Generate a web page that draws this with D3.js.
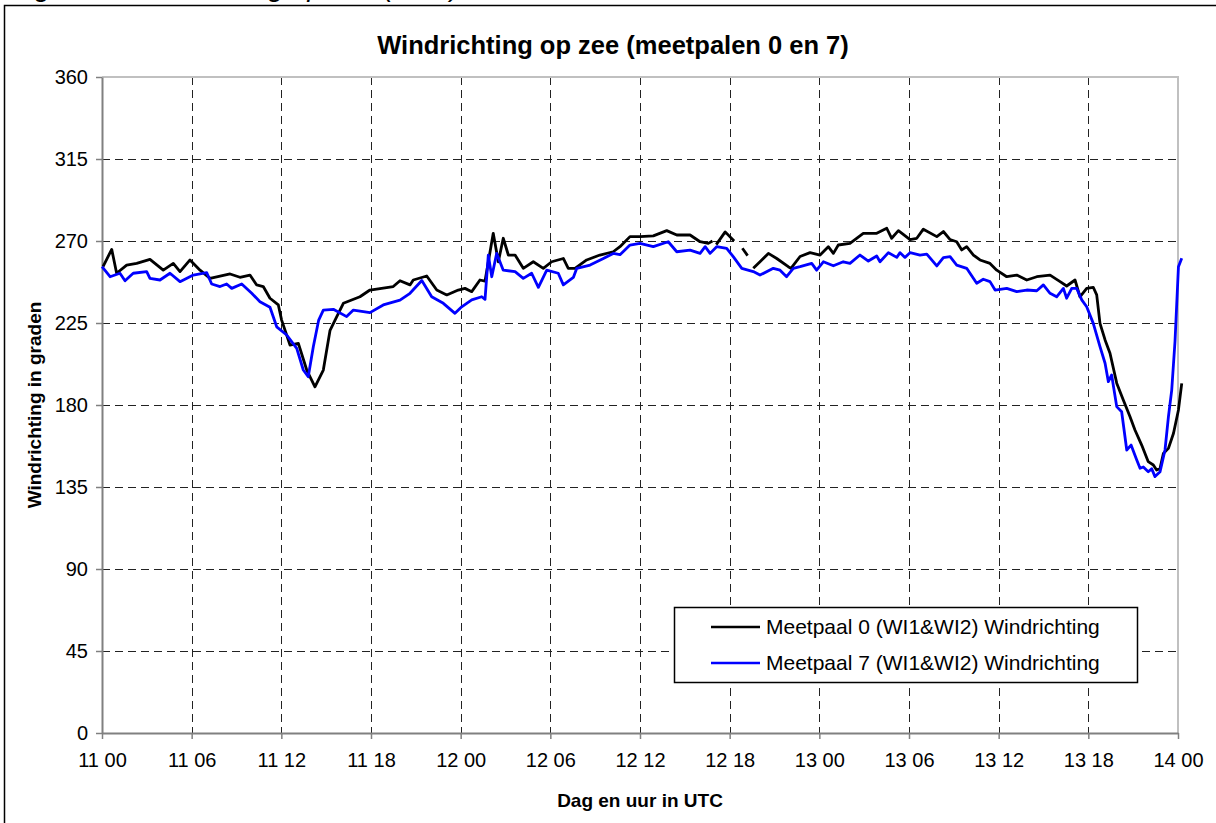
<!DOCTYPE html>
<html>
<head>
<meta charset="utf-8">
<script src="https://cdn.jsdelivr.net/npm/d3@7/dist/d3.min.js"></script>
<style>
  body { margin: 0; background: #fff; }
  text { font-family: Arial, "Liberation Sans", sans-serif; }
</style>
</head>
<body>
<div id="chart"></div>
<script>
var svgWidth = 1216;
var svgHeight = 823;

// hours since 11 00 UTC, wind direction in degrees
var hours0 = [0.07, 0.65, 0.98, 1.65, 2.32, 3.21, 4.10, 4.77, 5.22, 5.89, 6.56, 7.23, 8.57, 9.23, 9.90,
    10.35, 10.79, 11.24, 11.80, 12.02, 12.58, 13.14, 13.70, 14.25, 14.81, 15.26, 15.71, 16.15, 17.26,
    17.93, 19.49, 19.94, 20.61, 20.83, 21.73, 22.40, 23.07, 23.84, 24.29, 24.74, 25.29, 25.63, 26.18,
    26.52, 26.85, 27.19, 27.64, 28.19, 28.86, 29.53, 30.09, 30.87, 31.20, 31.65, 32.43, 33.32, 34.21,
    34.66, 35.33, 36.00, 36.89, 37.79, 38.46, 39.35, 40.02, 40.57, 40.85, 40.95, 41.1, 41.7, 42.3,
    42.5, 42.85, 43.2, 43.4, 43.58, 44.03, 44.59, 45.15, 45.92, 46.10, 46.71, 47.38, 48.05, 48.60,
    48.94, 49.27, 50.05, 50.94, 51.84, 52.51, 52.84, 53.29, 54.07, 54.52, 54.96, 55.86, 56.30, 56.75,
    57.19, 57.53, 57.86, 58.31, 58.75, 59.42, 59.87, 60.54, 61.21, 61.88, 62.55, 63.44, 64.11, 64.55,
    65.11, 65.44, 65.89, 66.33, 66.56, 66.78, 67.12, 67.45, 67.90, 68.34, 68.79, 69.12, 69.57, 70.01,
    70.35, 70.57, 70.80, 71.02, 71.36, 71.70, 72.03, 72.25];
var dir0 = [256, 265.4, 252.3, 256.8, 257.7, 259.9, 254, 257.7, 253.2, 259.6, 254, 249.5, 251.9, 250.1, 251.3,
    245.9, 245, 238.6, 234.9, 226.6, 212.9, 213.8, 199.2, 190, 199.2, 221, 228.5, 235.8, 239.4,
    243.1, 245, 248.2, 245.9, 248.6, 250.8, 243.1, 240.4, 243.1, 244, 242.2, 248.6, 248, 274.2,
    258.6, 271.5, 262.3, 262.3, 255, 258.6, 255, 258.6, 260.4, 255, 255, 259.6, 262.3, 264.1,
    266.9, 272.4, 272.4, 272.8, 275.7, 273.3, 273.3, 269.6, 268.7, 270, null, 268, 275, 270,
    null, 266, 262, null, 255, 258.6, 263.2, 260.4, 255.9, 255, 261.5, 263.6, 262.3, 266.9,
    263.2, 267.8, 268.7, 274.2, 274.2, 277, 271.5, 275.7, 270.8, 271.5, 276.5, 272.4, 275.2, 270.8,
    269.6, 265.1, 266.9, 262.3, 259.6, 257.7, 254, 250.4, 251.3, 248.6, 250.4, 251.3, 247.7, 245.3,
    248.6, 239.4, 244, 244.6, 240.4, 224.8, 215.7, 208.4, 192, 182.7, 173.6, 166.3, 158, 148.9,
    147.1, 144.3, 145.2, 153.4, 156.2, 164.5, 177.3, 191.9];

var hours7 = [0, 0.54, 1.20, 1.54, 2.09, 2.99, 3.21, 3.88, 4.55, 5.22, 6.11, 7.01, 7.34, 7.90, 8.34,
    8.68, 9.35, 10.02, 10.57, 11.24, 11.69, 12.36, 13.03, 13.47, 13.80, 14.14, 14.50, 14.81, 15.48,
    16.37, 16.82, 17.93, 18.82, 19.94, 20.61, 21.40, 22.06, 22.84, 23.62, 24.07, 24.74, 25.41, 25.63,
    25.85, 26.08, 26.41, 26.85, 27.64, 28.19, 28.75, 29.20, 29.76, 30.53, 30.87, 31.54, 31.77, 32.66,
    33.55, 34.21, 34.66, 35.33, 36.00, 36.89, 37.89, 38.46, 39.35, 40.02, 40.36, 40.69, 41.13, 41.80,
    42.24, 42.81, 43.58, 44.03, 44.92, 45.37, 45.81, 46.26, 46.71, 47.49, 47.82, 48.27, 48.94, 49.60,
    50.05, 50.72, 51.28, 51.84, 52.06, 52.62, 53.18, 53.40, 53.73, 54.07, 54.74, 55.19, 55.86, 56.30,
    56.75, 57.19, 57.86, 58.53, 58.97, 59.42, 59.76, 60.54, 61.21, 61.88, 62.55, 62.99, 63.44, 63.88,
    64.33, 64.55, 64.89, 65.22, 65.56, 65.89, 66.33, 66.78, 67.12, 67.34, 67.56, 67.90, 68.23, 68.57,
    68.86, 69.24, 69.46, 69.68, 70.01, 70.24, 70.46, 70.80, 71.13, 71.36, 71.58, 71.80, 72.03, 72.25];
var dir7 = [255.9, 250.4, 252.3, 248.2, 252.3, 253.2, 249.5, 248.6, 252.3, 247.7, 251.3, 252.6, 246.4, 245, 246.4,
    244, 246.4, 241.3, 236.7, 233.6, 222.9, 218.4, 211.1, 199.2, 195.5, 212, 226.6, 232.1, 232.5,
    228.5, 232.1, 230.7, 234.9, 237.5, 241.3, 248.3, 239.4, 235.8, 230.3, 233.9, 237.7, 239.4, 238,
    262.3, 250.4, 263.2, 254, 253.2, 249.5, 252.3, 244.6, 254, 252.3, 245.9, 250, 255, 256.8,
    260.4, 263.2, 262.5, 267.8, 268.7, 266.9, 269.6, 264.1, 265, 263.2, 266.9, 263.2, 266.9, 266,
    261.4, 255, 253.2, 251.3, 255, 254, 250.4, 255, 255.9, 257.7, 254, 258.6, 256.4, 258.6,
    257.7, 262.3, 259, 261.8, 258.6, 263.6, 261, 263.6, 261, 263.6, 262.3, 262.8, 256.3, 260.9,
    261.4, 256.8, 255, 246.8, 249, 247.7, 243.1, 244, 242.2, 243.1, 242.7, 245.9, 241.3, 239.4,
    244, 238.6, 244, 244, 237.7, 233.9, 224.8, 212, 202.9, 192.8, 196.5, 179.1, 176.3, 155.3,
    158, 149.8, 145.3, 146, 143.4, 145, 140.7, 143.4, 155.3, 173.6, 188.2, 215, 255.9, 260.5];

var xTicks = d3.range(0, 73, 6);
var yTicks = [0, 45, 90, 135, 180, 225, 270, 315, 360];

var seriesNames = ["Meetpaal 0 (WI1&WI2) Windrichting", "Meetpaal 7 (WI1&WI2) Windrichting"];
var seriesColors = ["#000000", "#0000ff"];

var plot = { left: 102, right: 1178, top: 77, bottom: 733 };

var svg = d3.select("#chart")
    .append("svg")
    .attr("width", svgWidth)
    .attr("height", svgHeight);

// caption of the report, cut off at the top as in the original
svg.append("text")
    .attr("x", 12)
    .attr("y", -4)
    .attr("font-size", "28px")
    .attr("font-style", "italic")
    .text("Figuur 6: Windrichting op zee (UTC)");

// outer chart border
svg.append("rect")
    .attr("x", 4.5)
    .attr("y", 5.5)
    .attr("width", 1400)
    .attr("height", 1000)
    .attr("fill", "#fff")
    .attr("stroke", "#000")
    .attr("stroke-width", 1.5);

var xScale = d3.scaleLinear().domain([0, 72]).range([plot.left, plot.right]);
var yScale = d3.scaleLinear().domain([0, 360]).range([plot.bottom, plot.top]);

// grid
var grid = svg.append("g");
grid.selectAll(".hgrid")
    .data(yTicks.filter(d => d > 0 && d < 360))
    .enter()
    .append("line")
    .attr("x1", plot.left)
    .attr("x2", plot.right)
    .attr("y1", d => Math.round(yScale(d)) + 0.5)
    .attr("y2", d => Math.round(yScale(d)) + 0.5)
    .attr("stroke", "#222")
    .attr("stroke-dasharray", "8,5");
grid.selectAll(".vgrid")
    .data(xTicks.filter(d => d > 0 && d < 72))
    .enter()
    .append("line")
    .attr("x1", d => Math.round(xScale(d)) + 0.5)
    .attr("x2", d => Math.round(xScale(d)) + 0.5)
    .attr("y1", plot.top)
    .attr("y2", plot.bottom)
    .attr("stroke", "#222")
    .attr("stroke-dasharray", "8,5");

// plot area top and right border
svg.append("path")
    .attr("d", `M${plot.left},${plot.top}H${plot.right}V${plot.bottom}`)
    .attr("fill", "none")
    .attr("stroke", "#c0c0c0")
    .attr("stroke-width", 2);

function hourLabel(h) {
    var day = 11 + Math.floor(h / 24);
    var hr = h % 24;
    return day + " " + (hr < 10 ? "0" + hr : hr);
}

var xAxis = svg.append("g")
    .attr("transform", `translate(0, ${plot.bottom})`)
    .call(d3.axisBottom(xScale).tickValues(xTicks).tickSize(6).tickSizeOuter(0).tickPadding(14).tickFormat(hourLabel));
var yAxis = svg.append("g")
    .attr("transform", `translate(${plot.left}, 0)`)
    .call(d3.axisLeft(yScale).tickValues(yTicks).tickSize(6).tickSizeOuter(0).tickPadding(8));

[xAxis, yAxis].forEach(ax => {
    ax.select(".domain").attr("stroke", "#808080").attr("stroke-width", 2);
    ax.selectAll(".tick line").attr("stroke", "#808080").attr("stroke-width", 1.5);
    ax.selectAll(".tick text")
        .attr("font-family", "Arial, 'Liberation Sans', sans-serif")
        .attr("font-size", "20px")
        .attr("fill", "#000");
});

// series lines
var line = d3.line()
    .defined(d => d[1] !== null)
    .x(d => xScale(d[0]))
    .y(d => yScale(d[1]));

var series = [d3.zip(hours0, dir0), d3.zip(hours7, dir7)];

svg.selectAll(".series")
    .data(series)
    .enter()
    .append("path")
    .attr("d", line)
    .attr("fill", "none")
    .attr("stroke", (d, i) => seriesColors[i])
    .attr("stroke-width", 2.8)
    .attr("stroke-linejoin", "round");

// titles
svg.append("text")
    .attr("x", 613)
    .attr("y", 54)
    .attr("text-anchor", "middle")
    .attr("font-size", "25.5px")
    .attr("font-weight", "bold")
    .text("Windrichting op zee (meetpalen 0 en 7)");

svg.append("text")
    .attr("x", 640)
    .attr("y", 807)
    .attr("text-anchor", "middle")
    .attr("font-size", "19px")
    .attr("font-weight", "bold")
    .text("Dag en uur in UTC");

svg.append("text")
    .attr("transform", `translate(41, ${(plot.top + plot.bottom) / 2}) rotate(-90)`)
    .attr("text-anchor", "middle")
    .attr("font-size", "19px")
    .attr("font-weight", "bold")
    .text("Windrichting in graden");

// legend
var legend = svg.append("g");
legend.append("rect")
    .attr("x", 674.5)
    .attr("y", 607.5)
    .attr("width", 463)
    .attr("height", 75)
    .attr("fill", "#fff")
    .attr("stroke", "#000")
    .attr("stroke-width", 1.5);

var items = legend.selectAll(".item")
    .data(seriesNames)
    .enter()
    .append("g")
    .attr("transform", (d, i) => `translate(711, ${627 + i * 36})`);
items.append("line")
    .attr("x1", 0)
    .attr("x2", 49)
    .attr("stroke", (d, i) => seriesColors[i])
    .attr("stroke-width", 2.5);
items.append("text")
    .attr("x", 55)
    .attr("y", 7)
    .attr("font-size", "21px")
    .text(d => d);
</script>
</body>
</html>
